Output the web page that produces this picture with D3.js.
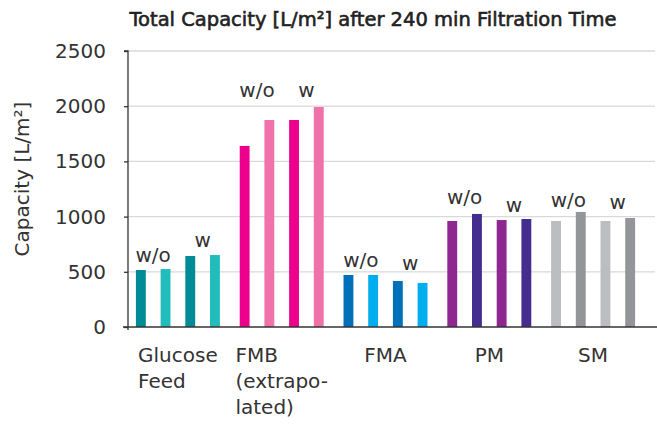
<!doctype html>
<html lang="en">
  <head>
    <meta charset="utf-8">
    <title>Total Capacity</title>
    <script src="https://d3js.org/d3.v7.min.js"></script>
    <style>
      body { margin: 0; background: #fff; }
      text { font-family: "DejaVu Sans", sans-serif; fill: #333; }
    </style>
  </head>
  <body>
    <svg width="657" height="425"></svg>
    <script>
      // data
      var groups = ['Glucose Feed', 'FMB', 'FMA', 'PM', 'SM'];
      var groupLines = [['Glucose', 'Feed'], ['FMB', '(extrapo-', 'lated)'], ['FMA'], ['PM'], ['SM']];
      var capacity = [
        [516, 525, 643, 652],
        [1640, 1875, 1875, 1993],
        [471, 471, 417, 399],
        [960, 1024, 969, 978],
        [960, 1042, 960, 987]
      ];
      var colors = [
        ['#008b96', '#21bdbd', '#008b96', '#21bdbd'],
        ['#ec008c', '#f171aa', '#ec008c', '#f171aa'],
        ['#0070b8', '#00adef', '#0070b8', '#00adef'],
        ['#8e278f', '#452c8f', '#8e278f', '#452c8f'],
        ['#bcbdc0', '#939598', '#bcbdc0', '#939598']
      ];
      var pairLabels = ['w/o', 'w'];
      // height (in L/m2) where each w/o, w label sits
      var labelAt = [[590, 725], [2085, 2085], [543, 516], [1114, 1042], [1088, 1070]];
      var yTicks = [0, 500, 1000, 1500, 2000, 2500];

      var svg = d3.select('svg');
      var mLeft = 128, mRight = 655, mTop = 51, mBottom = 327;

      var y = d3.scaleLinear().domain([0, 2500]).range([mBottom, mTop]);
      var x0 = d3.scaleBand().domain(groups).range([126, 645]);
      var x1 = d3.scaleBand().domain([0, 1, 2, 3])
        .range([-49.4, 49.4]).paddingInner(0.6).paddingOuter(0.3);

      // gridlines
      svg.append('g').selectAll('line').data(yTicks.slice(1)).enter()
        .append('line')
          .attr('x1', mLeft).attr('x2', mRight)
          .attr('y1', function(d){ return y(d); })
          .attr('y2', function(d){ return y(d); })
          .style('stroke', '#d9d9d9').style('stroke-width', 1.3);

      // y axis
      var yAxis = d3.axisLeft(y).tickValues(yTicks).tickSize(4).tickPadding(18)
        .tickFormat(d3.format('d'));
      var gy = svg.append('g').attr('transform', 'translate(' + mLeft + ',0)').call(yAxis);
      gy.select('.domain').attr('d', 'M-4,' + mTop + 'H0V' + (mBottom + 3))
        .style('stroke', '#333').style('stroke-width', 1.3);
      gy.selectAll('.tick line').style('stroke', '#333').style('stroke-width', 1.3);
      gy.selectAll('.tick text')
        .style('font-size', '20px').style('font-family', '"DejaVu Sans", sans-serif')
        .style('fill', '#333');

      // bars
      var bars = svg.append('g');
      groups.forEach(function(g, gi){
        var cx = x0(g) + x0.bandwidth() / 2;
        bars.selectAll('rect.g' + gi).data(capacity[gi]).enter()
          .append('rect')
            .attr('class', 'g' + gi)
            .attr('x', function(d, i){ return cx + x1(i); })
            .attr('width', x1.bandwidth())
            .attr('y', function(d){ return y(d); })
            .attr('height', function(d){ return y(0) - y(d); })
            .style('fill', function(d, i){ return colors[gi][i]; });

        // w/o and w labels
        svg.append('g').selectAll('text').data(pairLabels).enter()
          .append('text')
            .attr('x', function(d, i){ return cx + (x1(i * 2) + x1(i * 2 + 1) + x1.bandwidth()) / 2; })
            .attr('y', function(d, i){ return y(labelAt[gi][i]); })
            .attr('text-anchor', 'middle')
            .style('font-size', '20px')
            .text(function(d){ return d; });

        // category label: lines left aligned, block centred on the group
        var t = svg.append('text').style('font-size', '20px');
        groupLines[gi].forEach(function(line, li){
          t.append('tspan').attr('y', 362 + li * 26).text(line);
        });
        var w = 0;
        t.selectAll('tspan').each(function(){ w = Math.max(w, this.getComputedTextLength()); });
        t.selectAll('tspan').attr('x', cx - w / 2);
      });

      // x axis line
      svg.append('line')
        .attr('x1', 123).attr('x2', 657)
        .attr('y1', mBottom).attr('y2', mBottom)
        .style('stroke', '#333').style('stroke-width', 1.5);

      // titles
      var title = svg.append('text')
        .attr('x', 373).attr('y', 26)
        .attr('text-anchor', 'middle')
        .style('font-size', '20px').style('fill', '#222')
        .style('stroke', '#222').style('stroke-width', 0.6)
        .text('Total Capacity [L/m\u00b2] after 240 min Filtration Time');
      // fit title to the width seen in the reference
      var tw = title.node().getComputedTextLength();
      title.style('font-size', (20 * 487 / tw).toFixed(2) + 'px');

      svg.append('text')
        .attr('transform', 'translate(29,179) rotate(-90)')
        .attr('text-anchor', 'middle')
        .style('font-size', '20px')
        .text('Capacity [L/m\u00b2]');
    </script>
  </body>
</html>
